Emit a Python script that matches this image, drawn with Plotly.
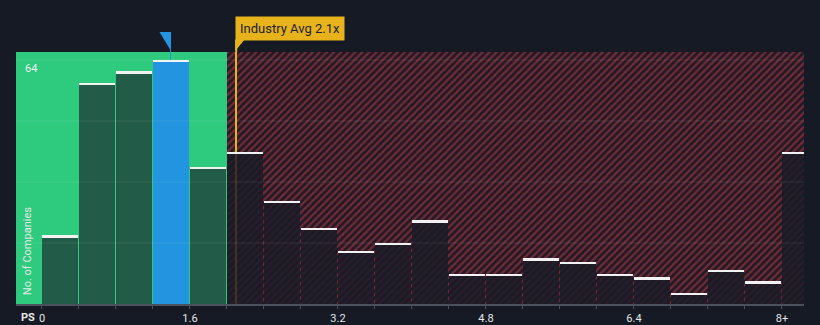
import plotly.graph_objects as go

# ---- data ----
bin_width = 0.4
bin_starts = [round(i * bin_width, 1) for i in range(21)]  # last bin is "8+"
counts = [18, 58, 61, 64, 36, 40, 27, 20, 14, 16, 22, 8, 8, 12, 11, 8, 7, 3, 9, 6, 40]
highlight_bin = 3
industry_avg = 2.1
fair_boundary = 2.0
x_tick_vals = [round(i * bin_width, 1) for i in range(21)]
x_tick_labels = {0.0: "0", 1.6: "1.6", 3.2: "3.2", 4.8: "4.8", 6.4: "6.4", 8.0: "8+"}
y_grid = [16, 32, 48, 64]
y_label_vals = [64]

# ---- style ----
BG = "#151a25"
GREEN = "#2ecb7f"
BLUE = "#2394df"
ORANGE = "#e8b21a"
RED_STRIPE = "#7a2833"
X_MIN, X_MAX = -0.281, 8.238
Y_MAX = 66.1

centers = [s + bin_width / 2 for s in bin_starts]
colors = []
for i, s in enumerate(bin_starts):
    if i == highlight_bin:
        colors.append(BLUE)
    elif s < fair_boundary:
        colors.append("#225b48")
    else:
        colors.append("rgba(24,27,38,0.82)")

fig = go.Figure()

# hatched "expensive" region
fig.add_trace(go.Bar(
    x=[(fair_boundary + X_MAX) / 2], y=[Y_MAX], width=[X_MAX - fair_boundary],
    marker=dict(color="#1b1d28", line=dict(width=0),
                pattern=dict(shape="/", fgcolor=RED_STRIPE, bgcolor="#1b1d28",
                             size=5, solidity=0.45, fillmode="replace")),
    hoverinfo="skip", showlegend=False))

# industry average line (under the bars)
fig.add_trace(go.Bar(
    x=[industry_avg], y=[Y_MAX], width=[0.022],
    marker=dict(color=ORANGE, line=dict(width=0)),
    hoverinfo="skip", showlegend=False))

# histogram bars
fig.add_trace(go.Bar(
    x=centers, y=counts, width=[bin_width * 0.973] * len(counts),
    marker=dict(color=colors, line=dict(width=0)),
    hoverinfo="skip", showlegend=False))

# white top caps
cap = 0.5
fig.add_trace(go.Bar(
    x=centers, y=[cap] * len(counts), base=[c - cap for c in counts],
    width=[bin_width * 0.973] * len(counts),
    marker=dict(color="#f2f2f2", line=dict(width=0)),
    hoverinfo="skip", showlegend=False))

shapes = []
# green "fair" region
shapes.append(dict(type="rect", xref="x", yref="paper", x0=X_MIN, x1=fair_boundary,
                   y0=0, y1=1, fillcolor=GREEN, line=dict(width=0), layer="below"))
# gridlines
for g in y_grid:
    shapes.append(dict(type="line", xref="paper", yref="y", x0=0, x1=1, y0=g, y1=g,
                       line=dict(color="rgba(255,255,255,0.09)", width=1), layer="above"))
# industry line above plot area
shapes.append(dict(type="line", xref="x", yref="paper", x0=industry_avg, x1=industry_avg,
                   y0=1.0, y1=1.05, line=dict(color=ORANGE, width=2)))
# annotation tail
shapes.append(dict(type="path", xref="x", yref="paper", xsizemode="pixel", ysizemode="pixel",
                   xanchor=industry_avg, yanchor=1.048,
                   path="M -1 0 L 8 0 L -1 -11 Z", fillcolor=ORANGE, line=dict(width=0)))
# highlight pennant over the blue bar
hc = centers[highlight_bin]
yp = counts[highlight_bin] / Y_MAX
shapes.append(dict(type="line", xref="x", yref="paper", xsizemode="pixel", ysizemode="pixel",
                   xanchor=hc, yanchor=yp, x0=-1, x1=-1, y0=0, y1=28,
                   line=dict(color=BLUE, width=1)))
shapes.append(dict(type="path", xref="x", yref="paper", xsizemode="pixel", ysizemode="pixel",
                   xanchor=hc, yanchor=yp, path="M -12 28 L -0.5 28 L -0.5 9 Z",
                   fillcolor=BLUE, line=dict(width=0)))

annotations = [
    dict(text="Industry Avg 2.1x", xref="x", yref="paper", x=industry_avg, y=1.095,
         xanchor="left", yanchor="middle", xshift=-1, showarrow=False,
         font=dict(family="Roboto", size=13, color="#1b1f2a"),
         bgcolor=ORANGE, borderpad=4),
    dict(text="No. of Companies", xref="paper", yref="paper", x=0.0155, y=0.028,
         xanchor="center", yanchor="bottom", textangle=-90, showarrow=False,
         font=dict(family="Roboto", size=11, color="#e6e6e6")),
    dict(text="<b>PS</b>", xref="paper", yref="paper", x=0.015, y=0, yshift=-13,
         xanchor="center", yanchor="middle", showarrow=False,
         font=dict(family="Roboto", size=11, color="#e6e6e6")),
]

fig.update_layout(
    width=820, height=325,
    margin=dict(l=16, r=16, t=52, b=21, autoexpand=False),
    paper_bgcolor=BG, plot_bgcolor=BG,
    barmode="overlay", bargap=0,
    showlegend=False, hovermode=False,
    shapes=shapes, annotations=annotations,
    xaxis=dict(range=[X_MIN, X_MAX], tickvals=x_tick_vals,
               ticktext=[x_tick_labels.get(v, "") for v in x_tick_vals],
               ticks="outside", ticklen=3, tickcolor="#4a505c", tickwidth=1,
               showline=True, linecolor="#4a505c", linewidth=2,
               showgrid=False, zeroline=False, automargin=False,
               tickfont=dict(family="Roboto", size=11, color="#e6e6e6")),
    yaxis=dict(range=[0, Y_MAX], tickvals=y_label_vals, ticktext=[str(v) for v in y_label_vals],
               ticklabelposition="inside bottom", ticks="", showgrid=False, zeroline=False,
               showline=False, ticklabelstandoff=6, automargin=False,
               tickfont=dict(family="Roboto", size=11, color="#f0f0f0")),
)

fig.write_html("out.html")
